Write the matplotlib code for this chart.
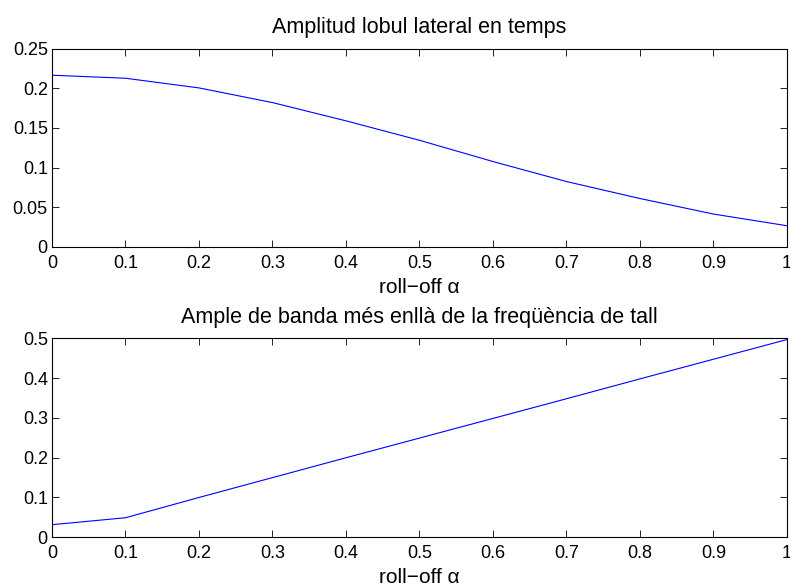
import matplotlib
matplotlib.use('Agg')
import matplotlib.pyplot as plt

# ── Data ───────────────────────────────────────────────────────────────────
rolloff = [0.0, 0.1, 0.2, 0.3, 0.4, 0.5, 0.6, 0.7, 0.8, 0.9, 1.0]
lobul_lateral = [0.2165, 0.2127, 0.2005, 0.1820, 0.1590, 0.1345, 0.1077, 0.0825, 0.0611, 0.0415, 0.0268]
ample_banda = [0.031, 0.0485, 0.0995, 0.1495, 0.1995, 0.2490, 0.2985, 0.3480, 0.3980, 0.4475, 0.4970]

titles = ['Amplitud lobul lateral en temps',
          'Ample de banda més enllà de la freqüència de tall']
xlabel = 'roll\u2212off \u03b1'

plt.rcParams['font.family'] = ['Liberation Sans', 'DejaVu Sans']

fig = plt.figure(figsize=(7.9, 5.86), dpi=100)
ax1 = fig.add_axes([0.0658, 0.5785, 0.9304, 0.3385])
ax2 = fig.add_axes([0.0658, 0.0836, 0.9304, 0.3390])

panels = [
    (ax1, lobul_lateral, [0, 0.25], [0, 0.05, 0.1, 0.15, 0.2, 0.25], ['0', '0.05', '0.1', '0.15', '0.2', '0.25']),
    (ax2, ample_banda, [0, 0.5], [0, 0.1, 0.2, 0.3, 0.4, 0.5], ['0', '0.1', '0.2', '0.3', '0.4', '0.5']),
]

xticks = [0, 0.1, 0.2, 0.3, 0.4, 0.5, 0.6, 0.7, 0.8, 0.9, 1]
xticklabels = ['0', '0.1', '0.2', '0.3', '0.4', '0.5', '0.6', '0.7', '0.8', '0.9', '1']

for (ax, vals, ylim, yt, ytl), title in zip(panels, titles):
    ax.plot(rolloff, vals, color='blue', linewidth=0.8)
    ax.set_xlim(0, 1)
    ax.set_ylim(*ylim)
    ax.set_xticks(xticks)
    ax.set_xticklabels(xticklabels)
    ax.set_yticks(yt)
    ax.set_yticklabels(ytl)
    ax.tick_params(direction='in', top=True, right=True, length=5, width=0.6,
                   labelsize=13)
    ax.tick_params(axis='x', pad=6)
    ax.tick_params(axis='y', pad=3)
    for s in ax.spines.values():
        s.set_linewidth(0.8)
    ax.set_title(title, fontsize=15.5, pad=11)
    ax.set_xlabel(xlabel, fontsize=15, labelpad=4)

fig.savefig('out.png', dpi=100)
